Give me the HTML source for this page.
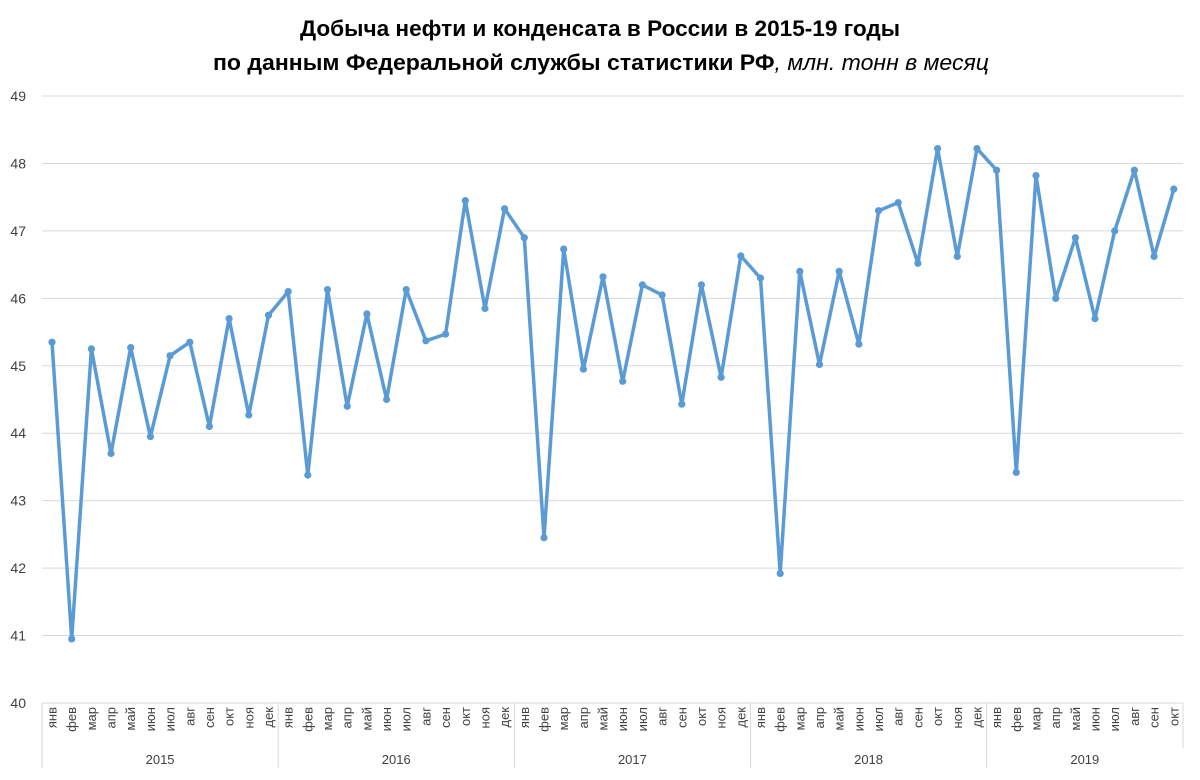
<!DOCTYPE html>
<html><head><meta charset="utf-8"><style>
html,body{margin:0;padding:0;background:#fff;}
svg{display:block;font-family:"Liberation Sans",sans-serif;}
</style></head><body>
<svg id="c" width="1200" height="780" viewBox="0 0 1200 780" xmlns="http://www.w3.org/2000/svg">
<text x="600" y="36" text-anchor="middle" font-size="22" font-weight="bold" fill="#000" textLength="600" lengthAdjust="spacingAndGlyphs">Добыча нефти и конденсата в России в 2015-19 годы</text>
<text x="601" y="70" text-anchor="middle" font-size="22" fill="#000" textLength="776" lengthAdjust="spacingAndGlyphs"><tspan font-weight="bold">по данным Федеральной службы статистики РФ</tspan><tspan font-style="italic">, млн. тонн в месяц</tspan></text>
<g id="g"></g>
</svg>
<script>
var d=[45.35,40.95,45.25,43.7,45.27,43.95,45.15,45.35,44.1,45.7,44.27,45.75,
46.1,43.38,46.13,44.4,45.77,44.5,46.13,45.37,45.47,47.45,45.85,47.33,
46.9,42.45,46.73,44.95,46.32,44.77,46.2,46.05,44.43,46.2,44.83,46.63,
46.3,41.92,46.4,45.02,46.4,45.32,47.3,47.42,46.52,48.22,46.62,48.22,
47.9,43.42,47.82,46.0,46.9,45.7,47.0,47.9,46.62,47.62];
var m=["янв","фев","мар","апр","май","июн","июл","авг","сен","окт","ноя","дек"];
var L=42,R=1183,W=(R-L)/58.1,s='';
W=19.68;
function Y(v){return 703-(v-40)*67.44;}
function X(i){return 52+i*W;}
for(var k=0;k<=9;k++){var y=Y(40+k);
 if(k>0)s+='<line x1="42" x2="1183" y1="'+y+'" y2="'+y+'" stroke="#d9d9d9" stroke-width="1"/>';
 s+='<text x="26" y="'+(y+5)+'" font-size="14" text-anchor="end" fill="#404040">'+(40+k)+'</text>';}
s+='<line x1="42" x2="1183" y1="703" y2="703" stroke="#d9d9d9"/>';
for(var yr=0;yr<=5;yr++){var x=L+yr*12*W; if(yr==5)x=R;
 s+='<line x1="'+x+'" x2="'+x+'" y1="703" y2="'+(yr==5?748:768)+'" stroke="#d9d9d9"/>';
 if(yr<5){var xe=Math.min(L+(yr+1)*12*W,R);
 s+='<text x="'+((x+xe)/2)+'" y="764" font-size="13" text-anchor="middle" fill="#404040">'+(2015+yr)+'</text>';}}
var p='';
for(var i=0;i<d.length;i++){var x=X(i);
 s+='<text transform="translate('+(x+4.5)+',707) rotate(-90)" font-size="13" text-anchor="end" fill="#404040">'+m[i%12]+'</text>';
 p+=(i?'L':'M')+x.toFixed(1)+' '+Y(d[i]).toFixed(1);}
s+='<path d="'+p+'" fill="none" stroke="#5b9bd5" stroke-width="3.5" stroke-linejoin="round"/>';
for(var i=0;i<d.length;i++)s+='<circle cx="'+X(i).toFixed(1)+'" cy="'+Y(d[i]).toFixed(1)+'" r="3.6" fill="#5b9bd5"/>';
document.getElementById('g').innerHTML=s;
</script>
</body></html>
